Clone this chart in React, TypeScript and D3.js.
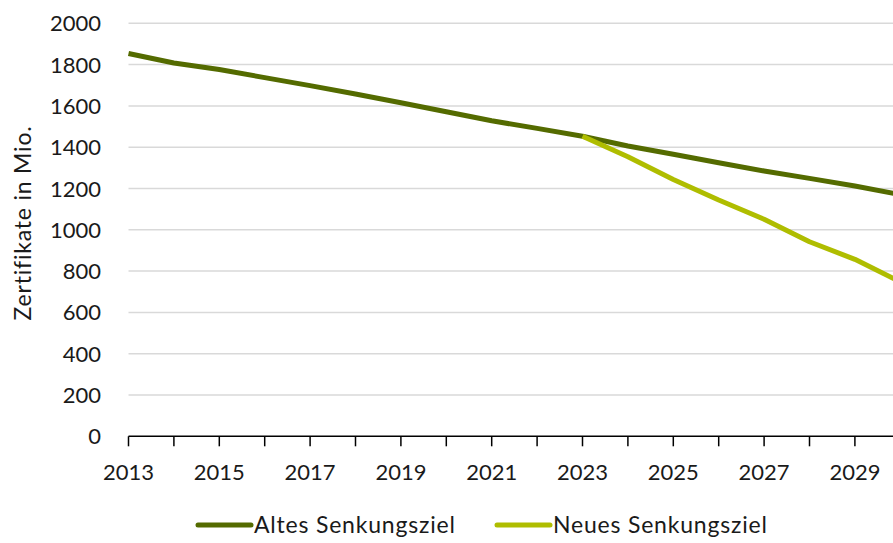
import React, { useRef, useEffect } from 'react'
import * as d3 from 'd3'

const years = [2013, 2014, 2015, 2016, 2017, 2018, 2019, 2020, 2021, 2022, 2023, 2024, 2025, 2026, 2027, 2028, 2029, 2030]
const altes = [1854, 1808, 1776, 1737, 1698, 1658, 1615, 1572, 1528, 1491, 1453, 1406, 1366, 1325, 1285, 1249, 1212, 1170]
const neues = [null, null, null, null, null, null, null, null, null, null, 1453, 1354, 1244, 1144, 1051, 942, 857, 748]
const yTicks = [0, 200, 400, 600, 800, 1000, 1200, 1400, 1600, 1800, 2000]
const xLabels = [2013, 2015, 2017, 2019, 2021, 2023, 2025, 2027, 2029]
const seriesNames = ['Altes Senkungsziel', 'Neues Senkungsziel']

const W = 893
const H = 543
const FONT = 'Lato, "Open Sans", sans-serif'
const DARK = '#546b00'
const LIGHT = '#afbd00'

const App = () => {
  const svgRef = useRef<SVGSVGElement>(null)

  useEffect(() => {
    const svg = d3.select(svgRef.current).attr('width', W).attr('height', H)
    svg.selectAll('*').remove()

    const x = d3.scaleLinear().domain([2013, 2030]).range([128.5, 128.5 + 17 * 45.4])
    const y = d3.scaleLinear().domain([0, 2000]).range([436.3, 23.3])

    // gridlines
    svg
      .append('g')
      .selectAll('line')
      .data(yTicks.filter((d) => d > 0))
      .enter()
      .append('line')
      .attr('x1', x(2013))
      .attr('x2', W)
      .attr('y1', (d) => y(d))
      .attr('y2', (d) => y(d))
      .attr('stroke', '#d9d9d9')
      .attr('stroke-width', 1.5)

    // y labels
    svg
      .append('g')
      .selectAll('text')
      .data(yTicks)
      .enter()
      .append('text')
      .attr('x', 101)
      .attr('y', (d) => y(d) + 8)
      .attr('text-anchor', 'end')
      .attr('font-family', FONT)
      .attr('font-size', 22)
      .attr('fill', '#1a1a1a')
      .text((d) => d)

    // y title
    svg
      .append('text')
      .attr('transform', 'translate(31,223) rotate(-90)')
      .attr('text-anchor', 'middle')
      .attr('font-family', FONT)
      .attr('font-size', 23)
      .attr('letter-spacing', 0.8)
      .attr('fill', '#1a1a1a')
      .text('Zertifikate in Mio.')

    // x axis
    const axis = svg.append('g')
    axis
      .append('line')
      .attr('x1', x(2013))
      .attr('x2', W)
      .attr('y1', y(0))
      .attr('y2', y(0))
      .attr('stroke', '#000')
      .attr('stroke-width', 1.5)
    axis
      .selectAll('line.tick')
      .data(years)
      .enter()
      .append('line')
      .attr('class', 'tick')
      .attr('x1', (d) => x(d))
      .attr('x2', (d) => x(d))
      .attr('y1', y(0))
      .attr('y2', y(0) + 10)
      .attr('stroke', '#000')
      .attr('stroke-width', 1.5)
    axis
      .selectAll('text')
      .data(xLabels)
      .enter()
      .append('text')
      .attr('x', (d) => x(d))
      .attr('y', 480)
      .attr('text-anchor', 'middle')
      .attr('font-family', FONT)
      .attr('font-size', 22)
      .attr('fill', '#1a1a1a')
      .text((d) => d)

    // lines
    const line = d3
      .line<number | null>()
      .defined((d) => d !== null)
      .x((_, i) => x(years[i]))
      .y((d) => y(d as number))

    svg
      .append('path')
      .attr('d', line(altes))
      .attr('fill', 'none')
      .attr('stroke', DARK)
      .attr('stroke-width', 5)
      .attr('stroke-linejoin', 'round')

    svg
      .append('path')
      .attr('d', line(neues))
      .attr('fill', 'none')
      .attr('stroke', LIGHT)
      .attr('stroke-width', 5)
      .attr('stroke-linejoin', 'round')

    // legend
    const legend = svg
      .append('g')
      .selectAll('g')
      .data(seriesNames)
      .enter()
      .append('g')
      .attr('transform', (_, i) => `translate(${i === 0 ? 196 : 495},525)`)
    legend
      .append('line')
      .attr('x1', 2)
      .attr('x2', 55)
      .attr('stroke', (_, i) => (i === 0 ? DARK : LIGHT))
      .attr('stroke-width', 5)
      .attr('stroke-linecap', 'round')
    legend
      .append('text')
      .attr('x', 58)
      .attr('y', 8)
      .attr('font-family', FONT)
      .attr('font-size', 23)
      .attr('letter-spacing', 0.8)
      .attr('fill', '#1a1a1a')
      .text((d) => d)
  }, [])

  return <svg ref={svgRef} style={{ position: 'absolute', left: 0, top: 0 }} />
}

export default App
